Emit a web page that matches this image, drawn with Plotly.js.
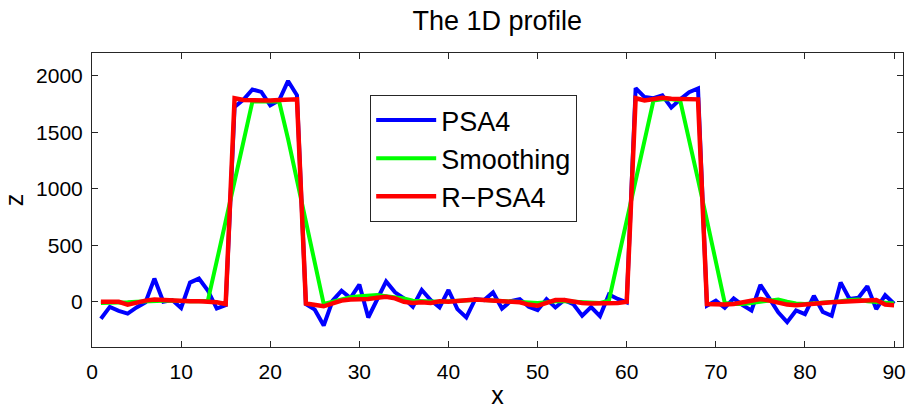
<!DOCTYPE html>
<html>
<head>
<meta charset="utf-8">
<script src="https://cdn.plot.ly/plotly-3.0.1.min.js"></script>
<style>html,body{margin:0;padding:0;background:#fff;}#chart{width:909px;height:409px;}</style>
</head>
<body>
<div id="chart"></div>
<script>
const xs = [];
for (let i = 1; i <= 90; i++) xs.push(i);

const psa4 = [
  -150, -45, -80, -105, -50, -5, 205, 0, 15, -55,
  170, 205, 100, -60, -30, 1722, 1788, 1877, 1856, 1738,
  1782, 1953, 1826, -20, -70, -210, 10, 97, 33, 152,
  -139, 15, 180, 83, 30, -44, 104, 15, -50, 104,
  -65, -139, 24, 15, 83, -60, 6, 24, -44, -74,
  24, -50, 15, -21, -124, -47, -127, 65, 25, -5,
  1890, 1810, 1800, 1826, 1717, 1790, 1853, 1886, -35, 9,
  -53, 30, -30, -77, 150, 30, -94, -180, -77, -109,
  53, -90, -124, 171, 24, 35, 138, -65, 58, -18
];

const smoothing = [
  -10, -10, -5, -5, 0, 5, 10, 10, 10, 5,
  5, 5, 10, 360, 720, 1080, 1440, 1770, 1770, 1770,
  1770, 1440, 1080, 720, 360, -20, 0, 20, 40, 50,
  55, 60, 50, 40, 30, 10, 5, 0, 0, 5,
  10, 15, 15, 15, 10, 5, 5, 0, -5, -10,
  -5, 5, 5, 0, -5, -10, -10, 10, 360, 720,
  1080, 1440, 1780, 1790, 1790, 1780, 1440, 1080, 720, 360,
  -10, -20, -20, -10, 0, 10, 20, 0, -15, -20,
  -15, -10, -5, 5, 15, 20, 5, 0, -10, -15
];

const rpsa4 = [
  0, -5, 0, -25, -5, 10, 20, 15, 5, 5,
  5, 5, 0, -5, -20, 1800, 1785, 1780, 1780, 1780,
  1785, 1785, 1790, -15, -30, -40, -15, 10, 20, 20,
  25, 35, 45, 30, 0, -10, -5, -10, 5, 0,
  10, 15, 20, 15, 10, 10, 5, -5, -25, -35,
  -10, 15, 15, 0, -10, -15, -15, -15, -10, 0,
  1800, 1780, 1790, 1805, 1795, 1795, 1795, 1790, -20, -25,
  -25, -20, -5, 10, 25, 10, -10, -25, -30, -20,
  -10, -10, -5, 0, 5, 10, 15, 15, -25, -30
];

const seriesNames = ['PSA4', 'Smoothing', 'R\u2212PSA4'];
const xTicks = [0, 10, 20, 30, 40, 50, 60, 70, 80, 90];
const yTicks = [0, 500, 1000, 1500, 2000];

const FONT = 'Liberation Sans, Arial, sans-serif';

const traces = [
  {x: xs, y: psa4, name: seriesNames[0], mode: 'lines', line: {color: '#0000ff', width: 4}},
  {x: xs, y: smoothing, name: seriesNames[1], mode: 'lines', line: {color: '#00ff00', width: 4}},
  {x: xs, y: rpsa4, name: seriesNames[2], mode: 'lines', line: {color: '#ff0000', width: 4.5}}
];

const axisCommon = {
  showline: true, linecolor: '#262626', linewidth: 1, mirror: 'ticks',
  ticks: 'inside', ticklen: 6, tickcolor: '#262626', tickwidth: 1,
  showgrid: false, zeroline: false,
  tickfont: {family: FONT, size: 21, color: '#000'}
};

const layout = {
  width: 909, height: 409,
  margin: {l: 92, r: 6, t: 53, b: 62},
  paper_bgcolor: '#fff', plot_bgcolor: '#fff',
  title: {text: 'The 1D profile', font: {family: FONT, size: 27, color: '#000'}, x: 0.547, xanchor: 'center', y: 0.95, yanchor: 'middle'},
  xaxis: Object.assign({}, axisCommon, {
    range: [0, 91], tickvals: xTicks, ticktext: xTicks.map(String),
    ticklabelstandoff: 6,
    title: {text: 'x', font: {family: FONT, size: 25, color: '#000'}, standoff: 4}
  }),
  yaxis: Object.assign({}, axisCommon, {
    range: [-400, 2200], tickvals: yTicks, ticktext: yTicks.map(String),
    ticklabelstandoff: 4,
    title: {text: 'z', font: {family: FONT, size: 25, color: '#000'}, standoff: 10}
  }),
  showlegend: true,
  legend: {
    x: 0.343, y: 0.857, xanchor: 'left', yanchor: 'top',
    bgcolor: '#fff', bordercolor: '#262626', borderwidth: 1,
    font: {family: FONT, size: 27, color: '#000'},
    itemwidth: 60, tracegroupgap: 0
  }
};

Plotly.newPlot('chart', traces, layout, {displayModeBar: false, staticPlot: true});
</script>
</body>
</html>
